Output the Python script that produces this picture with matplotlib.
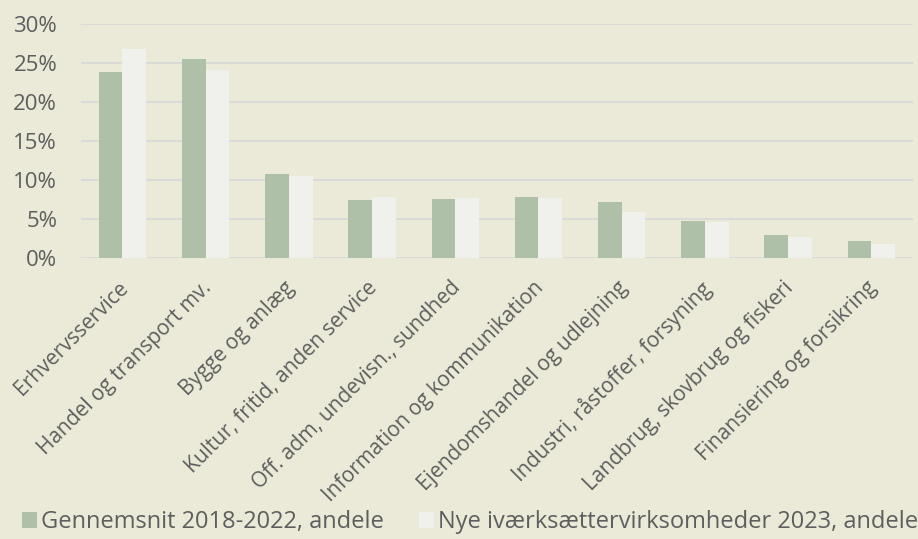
import numpy as np
import matplotlib.pyplot as plt
import matplotlib.transforms as mtransforms
from matplotlib.ticker import PercentFormatter

# data (shares in %)
categories = ['Erhvervsservice', 'Handel og transport mv.', 'Bygge og anlæg',
              'Kultur, fritid, anden service', 'Off. adm, undevisn., sundhed',
              'Information og kommunikation', 'Ejendomshandel og udlejning',
              'Industri, råstoffer, forsyning', 'Landbrug, skovbrug og fiskeri',
              'Finansiering og forsikring']
avg_2018_2022 = [23.9, 25.5, 10.8, 7.4, 7.6, 7.8, 7.2, 4.7, 2.95, 2.2]
new_2023 = [26.8, 24.1, 10.55, 7.8, 7.7, 7.65, 5.9, 4.6, 2.65, 1.8]

bg = '#EBEAD8'
green = '#AFC0A8'
white = '#F0F1EC'
txt = '#5E5E5E'

plt.rcParams['font.family'] = ['Open Sans', 'DejaVu Sans']

fig = plt.figure(figsize=(9.18, 5.39), dpi=100, facecolor=bg)
ax = fig.add_axes([0.088, 0.5213, 0.9065, 0.4342], facecolor=bg)

x = np.arange(len(categories))
w = 0.285
ax.bar(x - w / 2, avg_2018_2022, w, color=green, label='Gennemsnit 2018-2022, andele', zorder=3)
ax.bar(x + w / 2, new_2023, w, color=white, label='Nye iværksættervirksomheder 2023, andele', zorder=3)

ax.set_xlim(-0.5, len(categories) - 0.5)
ax.set_ylim(0, 30)
ax.set_yticks(range(0, 31, 5))
ax.yaxis.set_major_formatter(PercentFormatter(decimals=0))
ax.grid(axis='y', color='#D9D9D9', linewidth=1.3, zorder=0)
for s in ax.spines.values():
    s.set_visible(False)
ax.tick_params(length=0, colors=txt)
ax.tick_params(axis='y', pad=17, labelsize=16)
ax.tick_params(axis='x', pad=14)
ax.set_xticks(x)
ax.set_xticklabels(categories, rotation=45, ha='right', rotation_mode='anchor', fontsize=15)
# nudge rotated labels a little to the left, like the original
shift = mtransforms.ScaledTranslation(-5 / 100, 0, fig.dpi_scale_trans)
for lbl in ax.get_xticklabels():
    lbl.set_transform(lbl.get_transform() + shift)

fig.legend(loc='lower center', bbox_to_anchor=(0.512, -0.022), ncol=2, frameon=False,
           fontsize=17, labelcolor=txt, handlelength=0.65, handleheight=0.65,
           handletextpad=0.15, columnspacing=1.5, borderpad=0.2)

fig.savefig('out.png', dpi=100, facecolor=bg)
